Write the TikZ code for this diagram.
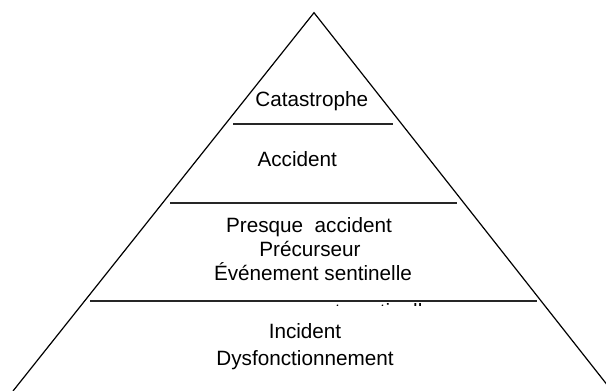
\documentclass[tikz,border=0pt]{standalone}
\usepackage{fontspec}
\setmainfont{Liberation Sans}
\begin{document}
\begin{tikzpicture}[x=1pt,y=-1pt,
  edge/.style={line width=1.2pt,black},
  level/.style={line width=1.7pt,black!85},
  lbl/.style={font=\fontsize{20.7}{24}\selectfont,anchor=base,inner sep=0pt}]
\useasboundingbox (0,0) rectangle (606,391);
\clip (0,0) rectangle (606,391);
\fill[white] (0,0) rectangle (606,391);
% triangle
\coordinate (apex) at (314,12.7);
\coordinate (bl) at (13,391);
\coordinate (br) at (612,391);
\draw[edge,line join=miter] (bl) -- (apex) -- (br);
% level lines
\coordinate (l1a) at (233,124); \coordinate (l1b) at (393,124);
\coordinate (l2a) at (170,203.3); \coordinate (l2b) at (456.7,203.3);
\coordinate (l3a) at (90,300.7); \coordinate (l3b) at (536.7,300.7);
\draw[level] (l1a) -- (l1b);
\draw[level] (l2a) -- (l2b);
\draw[level] (l3a) -- (l3b);
% labels
\node[lbl] (cat) at (311.7,106) {Catastrophe};
\node[lbl] (acc) at (297.2,166) {Accident};
\node[lbl] (pa) at (309,232) {Presque\ \ accident};
\node[lbl] (pre) at (310,256) {Précurseur};
\node[lbl] (evt) at (313,280.5) {Événement sentinelle};
\node[lbl] (inc) at (305,338.3) {Incident};
\node[lbl] (dys) at (305,365) {Dysfonctionnement};
% partially hidden duplicate text just below the third line
\begin{scope}
\clip (330,302.6) rectangle (430,305.2);
\node[lbl] (ghost) at (335,318.5) {Événement sentinelle};
\end{scope}
\end{tikzpicture}
\end{document}
